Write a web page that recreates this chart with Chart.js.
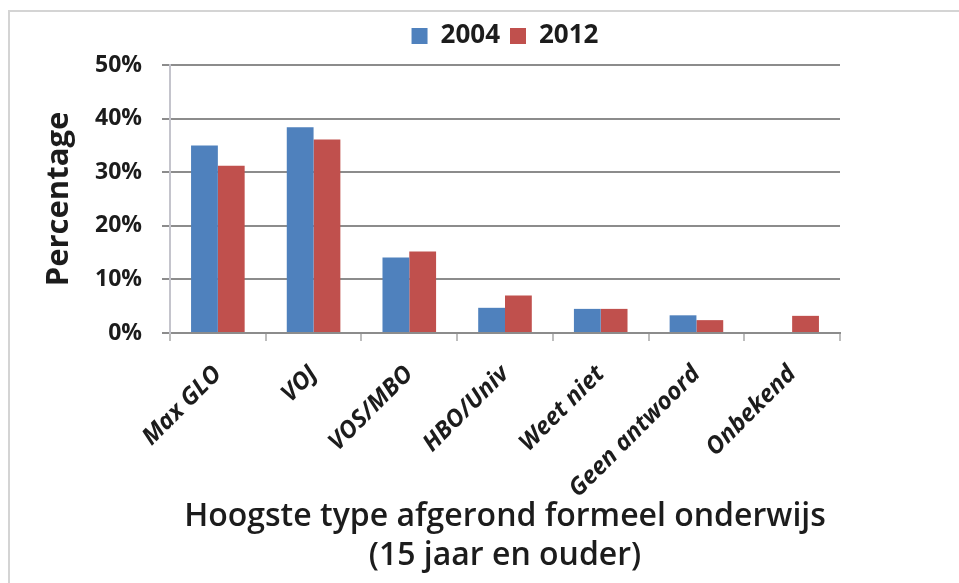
<!DOCTYPE html>
<html>
<head>
<meta charset="utf-8">
<script src="https://cdn.jsdelivr.net/npm/chart.js@4/dist/chart.umd.min.js"></script>
<style>
  body { margin: 0; background: #fff; }
  #frame { position: absolute; left: 8px; top: 10px; width: 960px; height: 600px;
           border-top: 2px solid #d4d4d4; border-left: 2px solid #d4d4d4; }
  #chart { position: absolute; left: 0; top: 0; }
</style>
</head>
<body>
<div id="frame"></div>
<canvas id="chart" width="959" height="583"></canvas>
<script>
// categorieen en waarden (percentages)
const categories = ['Max GLO', 'VOJ', 'VOS/MBO', 'HBO/Univ', 'Weet niet', 'Geen antwoord', 'Onbekend'];
const jaren = ['2004', '2012'];
const waarden2004 = [35.0, 38.4, 14.1, 4.7, 4.5, 3.3, null];
const waarden2012 = [31.2, 36.1, 15.2, 7.0, 4.5, 2.4, 3.2];
const yTicks = [0, 10, 20, 30, 40, 50];

const fam = '"Open Sans", "DejaVu Sans", sans-serif';
const txt = '#1c1c1c';

new Chart(document.getElementById('chart'), {
    type: 'bar',
    data: {
        labels: categories,
        datasets: [
            {label: jaren[0], data: waarden2004, backgroundColor: '#4F81BD', borderWidth: 0},
            {label: jaren[1], data: waarden2012, backgroundColor: '#C0504D', borderWidth: 0}
        ]
    },
    options: {
        responsive: false,
        animation: false,
        datasets: {bar: {categoryPercentage: 0.56, barPercentage: 1.0}},
        layout: {padding: {top: 13, right: 119, bottom: 0, left: 0}},
        plugins: {
            legend: {
                position: 'top',
                fullSize: false,
                labels: {boxWidth: 16, boxHeight: 16, padding: 10, color: txt,
                         font: {family: fam, size: 26, weight: 'bold'}}
            },
            // kleine ruimte tussen legenda en plotgebied
            subtitle: {display: true, text: ' ', position: 'top', weight: 500, fullSize: false,
                       padding: 0, font: {size: 5, lineHeight: 1.2}},
            tooltip: {enabled: false}
        },
        scales: {
            x: {
                afterFit: s => { s.height = 250; },
                grid: {offset: true, drawOnChartArea: false, drawTicks: true, tickLength: 8,
                       color: '#bdbdbd', lineWidth: 2},
                border: {color: '#8c8c8c', width: 2},
                ticks: {autoSkip: false, maxRotation: 45, minRotation: 45, padding: 19, color: txt,
                        font: {family: fam, size: 24, weight: 'bold', style: 'italic'}},
                title: {display: true, text: ['Hoogste type afgerond formeel onderwijs', '(15 jaar en ouder)'],
                        color: txt, padding: {top: 0, bottom: 8},
                        font: {family: fam, size: 32, weight: '600', lineHeight: 1.22}}
            },
            y: {
                min: yTicks[0],
                max: yTicks[yTicks.length - 1],
                afterFit: s => { s.width = 170; },
                afterBuildTicks: s => { s.ticks = yTicks.map(v => ({value: v})); },
                grid: {color: '#8c8c8c', lineWidth: 2, tickLength: 8},
                border: {color: '#c4c4cc', width: 2},
                ticks: {padding: 20, color: txt, callback: v => v + '%',
                        font: {family: fam, size: 23, weight: 'bold'}},
                title: {display: true, text: 'Percentage', color: txt, padding: {top: 41, bottom: 0},
                        font: {family: fam, size: 31, weight: 'bold', lineHeight: 1.2}}
            }
        }
    }
});
</script>
</body>
</html>
